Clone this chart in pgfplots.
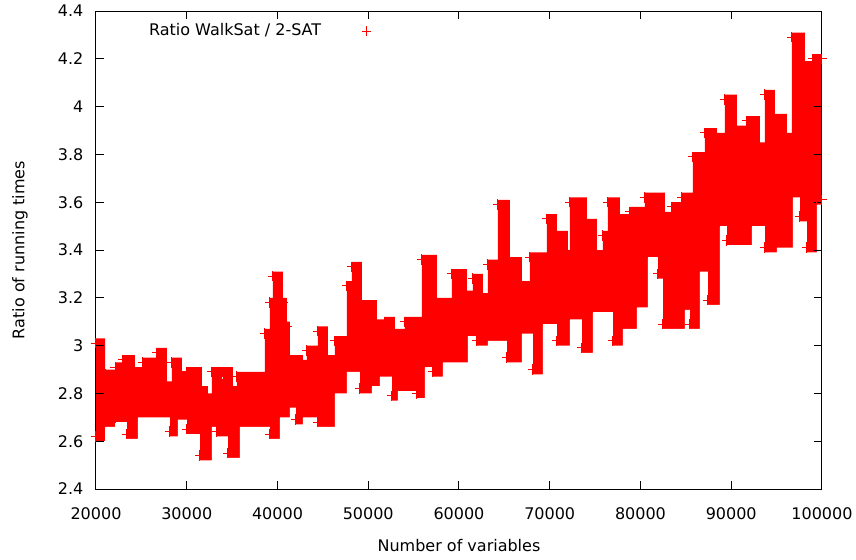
\documentclass[border=0pt]{standalone}
\usepackage{fontspec}
\setmainfont{DejaVu Sans}
\usepackage{pgfplots}
\usepackage{pgfplotstable}
\pgfplotsset{compat=1.18}

\pgfplotstableread{
x y
20000 3.03
20992 2.90
22094 2.93
22975 2.96
24297 2.91
25179 2.95
26722 2.99
27823 2.85
28374 2.95
29476 2.89
30027 2.91
31680 2.83
32341 2.80
32782 2.91
33884 2.86
33994 2.91
35096 2.83
35537 2.89
38622 3.07
39173 3.20
39504 3.31
40606 3.20
41047 3.10
41377 2.96
42810 2.94
43250 3.00
44462 3.08
45564 2.96
46335 3.04
47658 3.27
48209 3.35
49311 3.19
50963 3.11
51845 3.12
52947 3.07
54049 3.12
55922 3.38
57575 3.20
59228 3.32
60880 3.23
61542 3.30
62643 3.22
63194 3.36
64296 3.61
65619 3.37
66941 3.27
67822 3.39
69696 3.55
70798 3.48
72010 3.40
72230 3.62
74104 3.53
75205 3.40
75866 3.48
76417 3.62
77740 3.55
78842 3.58
80494 3.64
82698 3.56
83469 3.60
84571 3.64
85783 3.81
87106 3.91
88428 3.89
89310 4.05
90632 3.92
91734 3.96
93166 3.85
93717 4.07
94819 3.97
96142 3.89
96693 4.31
98125 4.19
99007 4.22
100000 4.22
}\upperenv

\pgfplotstableread{
x y
20000 2.60
20992 2.66
22094 2.68
23416 2.61
24628 2.70
28154 2.62
29036 2.69
30027 2.63
31460 2.52
32782 2.66
33333 2.62
34545 2.53
35867 2.66
39173 2.61
40275 2.70
41377 2.74
42038 2.67
42810 2.70
44462 2.66
46335 2.80
47658 2.89
49091 2.80
50413 2.83
51295 2.87
52617 2.77
53278 2.81
55372 2.78
56253 2.91
57135 2.87
58237 2.93
60990 3.04
61982 3.00
63194 3.02
65288 2.93
66941 3.05
68153 2.88
69255 3.09
70798 3.00
72230 3.11
73552 2.97
74764 3.14
76968 3.00
78070 3.07
79613 3.16
80825 3.37
81927 3.28
82478 3.07
84902 3.15
85453 3.07
86555 3.31
87437 3.17
88759 3.50
89530 3.42
92285 3.50
93717 3.39
95039 3.41
96803 3.62
97574 3.52
98345 3.39
99448 3.59
100000 3.59
}\lowerenv

\begin{document}
\begin{tikzpicture}[font=\fontsize{8}{9.6}\selectfont]
\begin{axis}[
  at={(0,0)}, anchor=south west,
  scale only axis, width=363pt, height=239pt,
  xmin=20000, xmax=100000, ymin=2.4, ymax=4.4,
  xtick={20000,30000,40000,50000,60000,70000,80000,90000,100000},
  ytick={2.4,2.6,2.8,3.0,3.2,3.4,3.6,3.8,4.0,4.2,4.4},
  scaled x ticks=false, scaled y ticks=false,
  xticklabel={\pgfmathprintnumber[fixed,precision=0,1000 sep={},assume math mode=true]{\tick}},
  yticklabel={\pgfmathprintnumber[fixed,precision=1,assume math mode=true]{\tick}},
  axis on top,
  tick align=inside, major tick length=4pt,
  axis line style={line width=0.5pt, black},
  every tick/.style={black, line width=0.5pt},
  xticklabel style={yshift=-5.8pt},
  yticklabel style={xshift=-2.8pt},
  xlabel={Number of variables},
  ylabel={Ratio of running times},
  x label style={at={(axis description cs:0.5,-0.1192)}, anchor=center},
  y label style={at={(axis description cs:-0.1047,0.5)}, anchor=center},
  legend plot pos=right,
  legend style={draw=none, fill=none, inner sep=0pt,
    at={(axis description cs:0.067,0.958)}, anchor=west},
  legend image code/.code={\path (0cm,0cm) (0.95cm,0cm);
    \draw[red, line width=0.5pt, mark=+, mark size=2.3pt, mark options={draw=red}] plot[only marks] coordinates {(0.72cm,0cm)};},
]
\addplot[const plot, fill=red, draw=none, forget plot] table[x=x,y=y] {\upperenv} \closedcycle;
\addplot[const plot, fill=white, draw=none, forget plot] table[x=x,y=y] {\lowerenv} \closedcycle;
\addplot[color=red, only marks, mark=+, mark size=2.6pt, line width=0.5pt,
  mark options={draw=red, solid}, forget plot]
  table[x=x, y expr=\thisrow{y}-0.02] {\upperenv};
\addplot[color=red, only marks, mark=+, mark size=2.6pt, line width=0.5pt,
  mark options={draw=red, solid}]
  table[x=x, y expr=\thisrow{y}+0.02] {\lowerenv};
\addlegendentry{Ratio WalkSat / 2-SAT}
\end{axis}
\pgfresetboundingbox
\path[use as bounding box] (-48pt,-35pt) rectangle (380pt,244.5pt);
\end{tikzpicture}
\end{document}
